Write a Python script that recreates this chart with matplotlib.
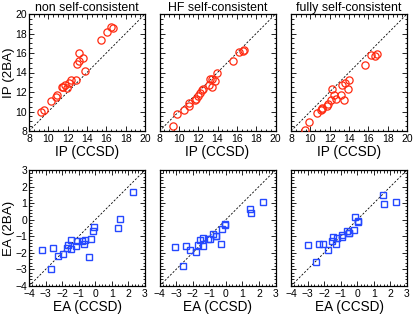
import matplotlib
matplotlib.use("Agg")
import matplotlib.pyplot as plt
from matplotlib.ticker import MultipleLocator

plt.rcParams['font.family'] = ['Liberation Sans', 'DejaVu Sans']

titles = ["non self-consistent", "HF self-consistent", "fully self-consistent"]

# IP panels: (CCSD, 2BA)
ip_x1 = [9.2, 9.55, 10.3, 10.8, 10.85, 11.4, 11.5, 11.75, 11.95, 12.1, 12.3, 12.9, 13.0, 13.2, 13.2, 13.6, 13.8, 15.45, 16.1, 16.45, 16.65]
ip_y1 = [9.9, 10.17, 11.1, 11.47, 11.74, 12.56, 12.5, 12.73, 12.42, 12.9, 13.28, 13.28, 14.85, 15.2, 16.04, 15.46, 14.2, 17.34, 18.12, 18.7, 18.57]
ip_x2 = [9.37, 9.81, 10.53, 11.0, 11.1, 11.65, 11.75, 12.03, 12.2, 12.4, 12.47, 13.12, 13.39, 13.19, 13.46, 13.7, 13.9, 15.58, 16.2, 16.63, 16.77]
ip_y2 = [8.53, 9.7, 10.17, 10.85, 10.6, 11.2, 11.26, 11.6, 11.88, 12.22, 12.35, 12.7, 12.5, 13.3, 13.3, 13.1, 14.0, 15.15, 16.1, 16.18, 16.3]
ip_x3 = [9.44, 9.86, 10.65, 11.1, 11.16, 11.23, 11.75, 11.85, 12.09, 12.22, 12.4, 12.64, 13.22, 13.29, 13.5, 13.57, 13.88, 14.05, 15.7, 16.3, 16.73, 16.87]
ip_y3 = [8.1, 8.94, 9.83, 10.17, 10.38, 10.27, 10.58, 10.79, 11.2, 12.32, 11.67, 11.33, 11.67, 12.76, 11.2, 12.97, 12.35, 13.24, 14.78, 15.83, 15.66, 15.9]

# EA panels: (CCSD, 2BA)
ea_x1 = [-3.19, -2.56, -2.66, -2.24, -1.93, -1.73, -1.63, -1.44, -1.44, -1.1, -1.14, -0.8, -0.69, -0.61, -0.27, -0.37, -0.15, -0.06, 1.4, 1.48, 2.25]
ea_y1 = [-1.81, -1.71, -2.98, -2.19, -2.09, -1.71, -1.55, -1.2, -1.75, -1.29, -1.59, -1.29, -1.47, -1.2, -1.14, -2.27, -0.68, -0.42, -0.52, 0.04, 1.69]
ea_x2 = [-3.09, -2.43, -2.57, -2.13, -1.82, -1.66, -1.56, -1.38, -1.36, -1.06, -0.98, -0.75, -0.6, -0.57, -0.31, -0.21, -0.07, -0.03, 1.44, 1.52, 2.27]
ea_y2 = [-1.63, -1.57, -2.77, -1.83, -1.93, -1.53, -1.25, -1.1, -1.61, -1.16, -1.14, -0.88, -0.96, -1.0, -1.45, -0.58, -0.26, -0.3, 0.65, 0.42, 1.09]
ea_x3 = [-2.98, -2.34, -2.08, -2.48, -1.74, -1.54, -1.48, -1.27, -1.25, -0.95, -0.91, -0.65, -0.53, -0.47, -0.21, -0.11, 0.03, 0.07, 1.55, 1.61, 2.33]
ea_y3 = [-1.53, -1.49, -1.49, -2.55, -1.83, -1.27, -1.02, -1.47, -1.13, -0.92, -1.06, -0.68, -0.8, -0.78, -0.62, 0.16, -0.14, -0.1, 1.51, 0.97, 1.07]

ip_sets = [(ip_x1, ip_y1), (ip_x2, ip_y2), (ip_x3, ip_y3)]
ea_sets = [(ea_x1, ea_y1), (ea_x2, ea_y2), (ea_x3, ea_y3)]

ip_lim = (8, 20)
ea_lim = (-4, 3)

W, H = 415, 316
fig = plt.figure(figsize=(W / 100, H / 100), dpi=100)

lefts = [29, 159.5, 291]
width = 116
top_row = (14, 131)
bot_row = (170, 286)

red = "#ff2a10"
blue = "#2548ff"


def style(ax, lim, major, minor):
    ax.set_xlim(lim)
    ax.set_ylim(lim)
    ax.xaxis.set_major_locator(MultipleLocator(major))
    ax.yaxis.set_major_locator(MultipleLocator(major))
    ax.xaxis.set_minor_locator(MultipleLocator(minor))
    ax.yaxis.set_minor_locator(MultipleLocator(minor))
    ax.tick_params(which='both', direction='in', top=True, right=True, labelsize=7.5, pad=2, width=0.6)
    ax.tick_params(axis='y', which='both', pad=1.5)
    ax.tick_params(which='major', length=3.5)
    ax.tick_params(which='minor', length=1.8)
    for s in ax.spines.values():
        s.set_linewidth(0.9)
    ax.plot(lim, lim, ls=(0, (2.5, 2)), color='black', lw=0.6, zorder=1)


ylab_x = (14.5 - 29) / 116

for i in range(3):
    l = lefts[i] / W
    w = width / W
    # top
    t, b = top_row
    ax = fig.add_axes([l, 1 - b / H, w, (b - t) / H])
    style(ax, ip_lim, 2, 0.5)
    x, y = ip_sets[i]
    ax.plot(x, y, 'o', mfc='none', mec=red, ms=5.2, mew=0.9, zorder=3)
    ax.set_title(titles[i], fontsize=8.9, pad=2.5)
    ax.set_xlabel("IP (CCSD)", fontsize=9.8, labelpad=1)
    if i == 0:
        ax.set_ylabel("IP (2BA)", fontsize=9.6)
        ax.yaxis.set_label_coords(ylab_x, 0.5)
    else:
        ax.set_yticklabels([])
    # bottom
    t, b = bot_row
    ax = fig.add_axes([l, 1 - b / H, w, (b - t) / H])
    style(ax, ea_lim, 1, 0.2)
    x, y = ea_sets[i]
    ax.plot(x, y, 's', mfc='none', mec=blue, ms=5.0, mew=1.0, zorder=3)
    ax.set_xlabel("EA (CCSD)", fontsize=9.8, labelpad=1)
    if i == 0:
        ax.set_ylabel("EA (2BA)", fontsize=9.6)
        ax.yaxis.set_label_coords(ylab_x, 0.5)
    else:
        ax.set_yticklabels([])

fig.savefig("out.png", dpi=100)
